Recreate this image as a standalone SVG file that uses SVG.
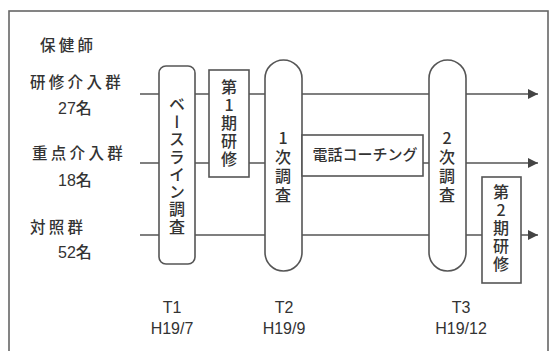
<svg xmlns="http://www.w3.org/2000/svg" width="550" height="351" viewBox="0 0 550 351">
<defs>
<style>
.jp{font-family:"Noto Sans CJK JP","Noto Sans",sans-serif;fill:#333;font-weight:500;}
.lbl{font-size:15.5px;letter-spacing:3.3px;}
.num{font-family:"Liberation Sans",Arial,sans-serif;font-size:16px;fill:#333;}
.vt{font-size:16px;writing-mode:vertical-rl;text-orientation:upright;}
.box{fill:#fff;stroke:#555;stroke-width:1.6;}
.ln{stroke:#555;stroke-width:1.6;fill:none;}
.t{font-family:"Liberation Sans",Arial,sans-serif;font-size:16px;fill:#333;text-anchor:middle;}
</style>
<marker id="arr" viewBox="0 0 10 10" refX="10" refY="5" markerWidth="10" markerHeight="10" markerUnits="userSpaceOnUse" orient="auto">
<path d="M0,0 L10,5 L0,10 z" fill="#444"/>
</marker>
</defs>
<rect x="0" y="0" width="550" height="351" fill="#fff"/>
<rect x="9" y="11" width="539" height="350" fill="none" stroke="#666" stroke-width="1.6"/>

<g id="labels">
<text class="jp lbl" x="40" y="51">保健師</text>
<text class="jp lbl" x="30" y="88">研修介入群</text>
<text class="jp" x="58" y="114" font-size="16"><tspan class="num">27</tspan>名</text>
<text class="jp lbl" x="32" y="159">重点介入群</text>
<text class="jp" x="58" y="186" font-size="16"><tspan class="num">18</tspan>名</text>
<text class="jp lbl" x="30" y="233">対照群</text>
<text class="jp" x="58" y="258" font-size="16"><tspan class="num">52</tspan>名</text>
</g>

<g id="connectors">
<line class="ln" x1="140" y1="94" x2="538" y2="94" marker-end="url(#arr)"/>
<line class="ln" x1="140" y1="163" x2="538" y2="163" marker-end="url(#arr)"/>
<line class="ln" x1="140" y1="235" x2="538" y2="235" marker-end="url(#arr)"/>
</g>

<g id="baseline">
<rect class="box" x="159" y="66" width="36" height="198" rx="7"/>
<text class="jp vt" x="177" y="166" text-anchor="middle" letter-spacing="1.5">ベースライン調査</text>
</g>

<g id="training1">
<rect class="box" x="209" y="70" width="40" height="107"/>
<text class="jp vt" x="229" y="124" text-anchor="middle" letter-spacing="2">第1期研修</text>
</g>

<g id="survey1">
<rect class="box" x="265" y="60" width="37" height="211" rx="18.5"/>
<text class="jp vt" x="283" y="168" text-anchor="middle" letter-spacing="3">1次調査</text>
</g>

<g id="coaching">
<rect class="box" x="302" y="135" width="121" height="41"/>
<text class="jp" x="365" y="160" font-size="15" text-anchor="middle">電話コーチング</text>
</g>

<g id="survey2">
<rect class="box" x="429" y="60" width="37" height="211" rx="18.5"/>
<text class="jp vt" x="447" y="168" text-anchor="middle" letter-spacing="3">2次調査</text>
</g>

<g id="training2">
<rect class="box" x="482" y="177" width="39" height="106"/>
<text class="jp vt" x="501" y="229" text-anchor="middle" letter-spacing="2">第2期研修</text>
</g>

<g id="times">
<text class="t" x="172" y="313">T1</text>
<text class="t" x="172" y="334">H19/7</text>
<text class="t" x="284" y="313">T2</text>
<text class="t" x="284" y="334">H19/9</text>
<text class="t" x="461" y="313">T3</text>
<text class="t" x="461" y="334">H19/12</text>
</g>
</svg>
